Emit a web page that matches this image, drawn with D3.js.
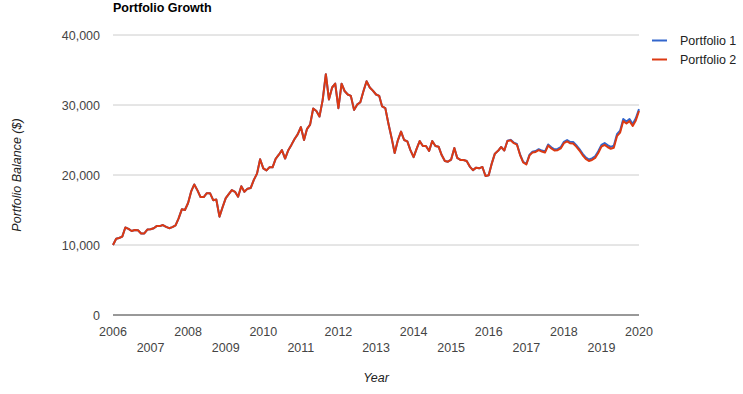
<!DOCTYPE html>
<html>
<head>
<meta charset="utf-8">
<script src="https://cdn.jsdelivr.net/npm/d3@7"></script>
<style>
  body { margin: 0; background: #fff; }
  text { font-family: Arial, "Liberation Sans", sans-serif; }
</style>
</head>
<body>
<script>
'use strict'

var w = 743;
var h = 394;

// monthly balances, Jan 2006 .. mid 2016 (both portfolios identical here)
var sharedValues = [
  10000, 10900, 11000, 11200, 12500, 12300, 12000, 12150, 12100, 11650, 11650, 12200,
  12250, 12400, 12700, 12700, 12850, 12600, 12400, 12550, 12800, 13800, 15100, 15000,
  16000, 17700, 18650, 17800, 16850, 16850, 17400, 17400, 16400, 16500, 14050, 15400,
  16700, 17300, 17850, 17600, 16900, 18400, 17600, 18050, 18150, 19300, 20200, 22250,
  20950, 20650, 21100, 21100, 22300, 22900, 23550, 22350, 23550, 24300, 25150, 25800,
  26850, 25000, 26550, 27200, 29500, 29150, 28350, 30700, 34400, 30800, 32500, 33050,
  29550, 33050, 32000, 31500, 31300, 29300, 30050, 30400, 32000, 33400, 32500, 32050,
  31500, 31300, 29800, 29550, 27350, 25300, 23150, 24950, 26200, 25000, 24800, 23550,
  22550, 23800, 24850, 24150, 24150, 23450, 24850, 24150, 24050, 22850, 22000, 21900,
  22200, 23850, 22450, 22150, 22150, 22000, 21200, 20700, 21050, 20950, 21150, 19850,
  19950, 21700, 23050, 23450, 24000, 23500
];

// from mid 2016 the two drift apart a little
var portfolio1Tail = [
  24900, 25020, 24630, 24440, 22940, 21890,
  21600, 22910, 23320, 23430, 23690, 23490, 23350, 24360, 23960, 23670, 23720, 23980,
  24740, 25000, 24750, 24710, 24260, 23710, 23060, 22510, 22210, 22370, 22680, 23390,
  24300, 24560, 24260, 24010, 24170, 25830, 26330, 27990, 27640, 27990, 27290, 28100, 29400
];

var portfolio2Tail = [
  24850, 24950, 24550, 24350, 22850, 21800,
  21500, 22800, 23200, 23300, 23550, 23350, 23200, 24200, 23800, 23500, 23550, 23800,
  24550, 24800, 24550, 24500, 24050, 23500, 22850, 22300, 22000, 22150, 22450, 23150,
  24050, 24300, 24000, 23750, 23900, 25550, 26050, 27700, 27350, 27700, 27000, 27800, 29150
];

var seriesNames = ["Portfolio 1", "Portfolio 2"];
var seriesColors = ["#3366cc", "#dc3912"];
var yearTicks = [2006, 2007, 2008, 2009, 2010, 2011, 2012, 2013, 2014, 2015, 2016, 2017, 2018, 2019, 2020];
var valueTicks = [0, 10000, 20000, 30000, 40000];

var months = d3.timeMonth.range(new Date(2006, 0, 1), new Date(2020, 1, 1));

var series = [
  sharedValues.concat(portfolio1Tail),
  sharedValues.concat(portfolio2Tail)
];

var svg = d3.select("body")
  .append("svg")
  .attr("width", w)
  .attr("height", h);

var x = d3.scaleTime()
  .domain([new Date(2006, 0, 1), new Date(2020, 0, 1)])
  .range([113, 639]);

var y = d3.scaleLinear()
  .domain([0, 40000])
  .range([315, 35]);

//gridlines
svg.selectAll("line.grid")
  .data(valueTicks.filter(function(d) { return d > 0; }))
  .enter()
  .append("line")
  .attr("class", "grid")
  .attr("x1", x.range()[0])
  .attr("x2", x.range()[1])
  .attr("y1", function(d) { return y(d); })
  .attr("y2", function(d) { return y(d); })
  .attr("stroke", "#cccccc")
  .attr("stroke-width", 1);

//y labels
svg.selectAll("text.ytick")
  .data(valueTicks)
  .enter()
  .append("text")
  .attr("class", "ytick")
  .attr("x", 100)
  .attr("y", function(d) { return y(d); })
  .attr("dy", "0.36em")
  .attr("text-anchor", "end")
  .style("font-size", "12.5px")
  .style("fill", "#444")
  .text(function(d) { return d3.format(",")(d); });

//x labels, staggered in two rows
svg.selectAll("text.xtick")
  .data(yearTicks)
  .enter()
  .append("text")
  .attr("class", "xtick")
  .attr("x", function(d) { return x(new Date(d, 0, 1)); })
  .attr("y", function(d, i) { return i % 2 === 0 ? 335.5 : 351.5; })
  .attr("text-anchor", "middle")
  .style("font-size", "12.5px")
  .style("fill", "#444")
  .text(function(d) { return d; });

//lines
var line = d3.line()
  .x(function(d, i) { return x(months[i]); })
  .y(function(d) { return y(d); });

svg.selectAll("path.series")
  .data(series)
  .enter()
  .append("path")
  .attr("class", "series")
  .attr("d", line)
  .attr("fill", "none")
  .attr("stroke", function(d, i) { return seriesColors[i]; })
  .attr("stroke-width", 2)
  .attr("stroke-linejoin", "round");

//baseline
svg.append("line")
  .attr("x1", x.range()[0])
  .attr("x2", x.range()[1])
  .attr("y1", y(0))
  .attr("y2", y(0))
  .attr("stroke", "#333333")
  .attr("stroke-width", 1);

//title
svg.append("text")
  .attr("x", 113)
  .attr("y", 11.5)
  .style("font-size", "12.5px")
  .style("font-weight", "bold")
  .style("fill", "#000")
  .text("Portfolio Growth");

//axis titles
svg.append("text")
  .attr("x", 376)
  .attr("y", 382)
  .attr("text-anchor", "middle")
  .style("font-size", "12.5px")
  .style("font-style", "italic")
  .style("fill", "#222")
  .text("Year");

svg.append("text")
  .attr("transform", "translate(21,175) rotate(-90)")
  .attr("text-anchor", "middle")
  .style("font-size", "12.5px")
  .style("font-style", "italic")
  .style("fill", "#222")
  .text("Portfolio Balance ($)");

//legend
var legend = svg.selectAll("g.legend")
  .data(seriesNames)
  .enter()
  .append("g")
  .attr("class", "legend")
  .attr("transform", function(d, i) { return "translate(652," + (40.5 + i * 19) + ")"; });

legend.append("line")
  .attr("x1", 0)
  .attr("x2", 15)
  .attr("stroke", function(d, i) { return seriesColors[i]; })
  .attr("stroke-width", 2);

legend.append("text")
  .attr("x", 28)
  .attr("dy", "0.36em")
  .style("font-size", "12.5px")
  .style("fill", "#222")
  .text(function(d) { return d; });
</script>
</body>
</html>
